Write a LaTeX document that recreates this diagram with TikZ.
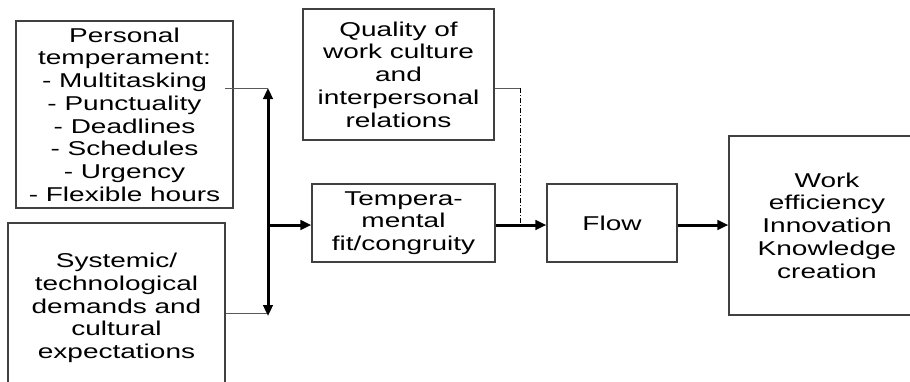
\documentclass[tikz,border=0pt]{standalone}
\usepackage{fontspec}
\setmainfont[FakeStretch=1.4]{Liberation Sans}
\usetikzlibrary{arrows.meta}
\begin{document}
\begin{tikzpicture}[x=1pt,y=-1pt,
  box/.style={draw=black!75, line width=1.3pt, align=center, inner sep=0pt,
    font=\fontsize{20}{22.7}\selectfont},
  thinline/.style={draw=black!65, line width=1pt},
  tipA/.tip={Triangle[length=11pt,width=9.5pt]},
  thickarrow/.style={line width=3pt, -tipA},
  dashdotline/.style={draw=black, line width=0.8pt, dash pattern=on 5pt off 2pt on 1pt off 2pt}
]
\useasboundingbox (0,0) rectangle (910,381);
\clip (0,0) rectangle (910,381);

\node[box, minimum width=217, minimum height=187] (pers) at (124.5,114.5)
  {Personal\\temperament:\\- Multitasking\\- Punctuality\\- Deadlines\\- Schedules\\- Urgency\\- Flexible hours};
\node[box, minimum width=217, minimum height=170] (sys) at (116.5,308)
  {Systemic/\\technological\\demands and\\cultural\\expectations};
\node[box, minimum width=191, minimum height=131] (qual) at (398.5,74.5)
  {Quality of\\work culture\\and\\interpersonal\\relations};
\node[box, minimum width=183, minimum height=78] (temp) at (403.5,223)
  {Tempera-\\mental\\fit/congruity};
\node[box, minimum width=130, minimum height=78] (flow) at (612,223) {Flow};
\node[box, minimum width=196, minimum height=179] (work) at (827,225.5)
  {Work\\efficiency\\Innovation\\Knowledge\\creation};

\coordinate (p1) at (225,88);
\coordinate (barT) at (268,88);
\coordinate (barB) at (268,316);
\coordinate (s1) at (268,313);
\coordinate (jn) at (268,225);
\coordinate (dc) at (520,88);
\coordinate (dm) at (520,225);

\draw[thinline] (p1) -- (barT);
\draw[thinline] (sys.east |- s1) -- (s1);
\draw[line width=3pt, tipA-tipA] (barT) -- (barB);
\draw[thickarrow] (jn) -- (temp.west |- jn);
\draw[thinline] (qual.east |- dc) -- (dc);
\draw[dashdotline] (dc) -- (dm);
\draw[thickarrow] (temp.east |- jn) -- (flow.west |- jn);
\draw[thickarrow] (flow.east |- jn) -- (work.west |- jn);
\end{tikzpicture}
\end{document}
